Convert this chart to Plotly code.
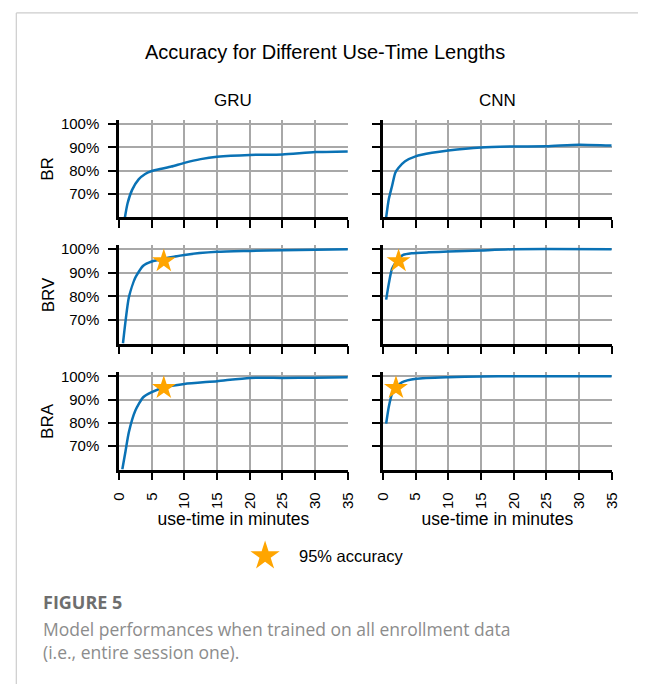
import plotly.graph_objects as go

# ---------------- data ----------------
models = ["GRU", "CNN"]
feature_sets = ["BR", "BRV", "BRA"]
x_ticks = [0, 5, 10, 15, 20, 25, 30, 35]
y_ticks = [0.7, 0.8, 0.9, 1.0]
y_tick_labels = ["70%", "80%", "90%", "100%"]

gru_br_t = [0.9, 1.3, 2.0, 3.0, 4.0, 5.0, 6.5, 8.0, 10, 12.5, 15, 20, 25, 30, 35]
gru_br_acc = [0.600, 0.660, 0.718, 0.763, 0.786, 0.799, 0.809, 0.818, 0.834, 0.850, 0.860, 0.868, 0.870, 0.880, 0.883]

cnn_br_t = [0.5, 0.9, 1.4, 1.9, 2.4, 3.4, 5.0, 7.5, 10, 15, 20, 25, 30, 35]
cnn_br_acc = [0.600, 0.678, 0.735, 0.792, 0.813, 0.841, 0.862, 0.877, 0.887, 0.900, 0.904, 0.905, 0.912, 0.908]

gru_brv_t = [0.6, 1.0, 1.5, 2.5, 3.7, 5.0, 6.85, 10, 15, 20, 25, 30, 35]
gru_brv_acc = [0.600, 0.696, 0.795, 0.880, 0.930, 0.948, 0.960, 0.976, 0.989, 0.993, 0.996, 0.998, 1.000]

cnn_brv_t = [0.5, 0.9, 1.4, 2.4, 3.1, 4.4, 7, 10, 15, 20, 35]
cnn_brv_acc = [0.786, 0.853, 0.917, 0.958, 0.976, 0.983, 0.987, 0.990, 0.995, 1.0, 1.0]

gru_bra_t = [0.5, 1.0, 1.5, 2.5, 3.7, 5.0, 6.85, 10, 15, 20, 25, 30, 35]
gru_bra_acc = [0.600, 0.680, 0.760, 0.853, 0.910, 0.932, 0.952, 0.967, 0.979, 0.993, 0.993, 0.994, 0.996]

cnn_bra_t = [0.5, 0.9, 1.4, 2.0, 2.9, 5.1, 10, 15, 20, 35]
cnn_bra_acc = [0.797, 0.868, 0.925, 0.952, 0.974, 0.989, 0.996, 0.999, 1.0, 1.0]

# 95% accuracy points (row, col): time
star_t = {("BRV", "GRU"): 6.85, ("BRV", "CNN"): 2.4, ("BRA", "GRU"): 6.85, ("BRA", "CNN"): 2.0}
star_acc = 0.95

curves = {
    ("BR", "GRU"): (gru_br_t, gru_br_acc),
    ("BR", "CNN"): (cnn_br_t, cnn_br_acc),
    ("BRV", "GRU"): (gru_brv_t, gru_brv_acc),
    ("BRV", "CNN"): (cnn_brv_t, cnn_brv_acc),
    ("BRA", "GRU"): (gru_bra_t, gru_bra_acc),
    ("BRA", "CNN"): (cnn_bra_t, cnn_bra_acc),
}

# ---------------- layout geometry ----------------
W, H = 646, 684
col_px = [(113, 348), (384, 619)]
row_px = [(116, 214), (242, 341), (370, 468)]

def px_x(p):
    return p / W

def px_y(p):
    return 1 - p / H

FONT = "Liberation Sans, Arial, sans-serif"
LINE_COLOR = "#0A72B5"
STAR_COLOR = "#FFA500"
GRID = "#a8a8a8"

fig = go.Figure()
layout = dict(
    width=W, height=H, autosize=False,
    margin=dict(l=0, r=0, t=0, b=0),
    paper_bgcolor="white", plot_bgcolor="white",
    showlegend=False,
    font=dict(family=FONT, color="black"),
)

annotations = []
idx = 0
for r, fs in enumerate(feature_sets):
    for c, m in enumerate(models):
        idx += 1
        xa = "x" if idx == 1 else f"x{idx}"
        ya = "y" if idx == 1 else f"y{idx}"
        xkey = "xaxis" if idx == 1 else f"xaxis{idx}"
        ykey = "yaxis" if idx == 1 else f"yaxis{idx}"
        t, acc = curves[(fs, m)]
        fig.add_trace(go.Scatter(x=t, y=acc, mode="lines", xaxis=xa, yaxis=ya,
                                 line=dict(color=LINE_COLOR, width=2.5, shape="spline", smoothing=0.6),
                                 cliponaxis=True))
        if (fs, m) in star_t:
            fig.add_trace(go.Scatter(x=[star_t[(fs, m)]], y=[star_acc], mode="markers",
                                     xaxis=xa, yaxis=ya,
                                     marker=dict(symbol="star", size=18, color=STAR_COLOR,
                                                 line=dict(width=0)),
                                     cliponaxis=False))
        layout[xkey] = dict(
            domain=[px_x(col_px[c][0]), px_x(col_px[c][1])],
            anchor=ya, range=[0, 35], tickvals=x_ticks,
            ticktext=[str(v) for v in x_ticks],
            showticklabels=(r == 2), tickangle=-90, ticklabelstandoff=6,
            ticks="outside", ticklen=8, tickwidth=1.5, tickcolor="black",
            showline=True, linecolor="black", linewidth=2.5,
            showgrid=True, gridcolor=GRID, gridwidth=1.5, zeroline=False,
            tickfont=dict(size=15, family=FONT, color="black"),
            title=dict(text="use-time in minutes" if r == 2 else "",
                       font=dict(size=17.5, family=FONT, color="black"), standoff=4),
        )
        layout[ykey] = dict(
            domain=[px_y(row_px[r][1]), px_y(row_px[r][0])],
            anchor=xa, range=[0.6, 1.017], tickvals=y_ticks, ticktext=y_tick_labels,
            showticklabels=(c == 0), ticklabelstandoff=6,
            ticks="outside", ticklen=8, tickwidth=1.5, tickcolor="black",
            showline=True, linecolor="black", linewidth=2.5,
            showgrid=True, gridcolor=GRID, gridwidth=1.5, zeroline=False,
            tickfont=dict(size=15, family=FONT, color="black"),
        )

# legend axis (hidden) with the star marker
fig.add_trace(go.Scatter(x=[0.5], y=[0.5], mode="markers", xaxis="x7", yaxis="y7",
                         marker=dict(symbol="star", size=22, color=STAR_COLOR, line=dict(width=0)),
                         cliponaxis=False))
layout["xaxis7"] = dict(domain=[px_x(248), px_x(278)], anchor="y7", range=[0, 1], visible=False)
layout["yaxis7"] = dict(domain=[px_y(570), px_y(540)], anchor="x7", range=[0, 1], visible=False)

# titles
annotations.append(dict(text="Accuracy for Different Use-Time Lengths", x=px_x(325), y=px_y(47),
                        xref="paper", yref="paper", showarrow=False, xanchor="center", yanchor="middle",
                        font=dict(size=20, family=FONT, color="black")))
for c, m in enumerate(models):
    annotations.append(dict(text=m, x=px_x((col_px[c][0] + col_px[c][1]) / 2), y=px_y(96),
                            xref="paper", yref="paper", showarrow=False, xanchor="center",
                            yanchor="middle", font=dict(size=17, family=FONT, color="black")))
for r, fs in enumerate(feature_sets):
    annotations.append(dict(text=fs, x=px_x(40), y=px_y((row_px[r][0] + row_px[r][1]) / 2),
                            xref="paper", yref="paper", showarrow=False, xanchor="center",
                            yanchor="middle", textangle=-90,
                            font=dict(size=17, family=FONT, color="black")))
annotations.append(dict(text="95% accuracy", x=px_x(296), y=px_y(555), xref="paper", yref="paper",
                        showarrow=False, xanchor="left", yanchor="middle",
                        font=dict(size=16.5, family=FONT, color="black")))

# caption
CAP_FONT = "Open Sans, Lato, sans-serif"
annotations.append(dict(text="<b>FIGURE 5</b>", x=px_x(33), y=px_y(601), xref="paper", yref="paper",
                        showarrow=False, xanchor="left", yanchor="middle",
                        font=dict(size=18, family=CAP_FONT, color="#6e6e6e")))
annotations.append(dict(text="Model performances when trained on all enrollment data<br>(i.e., entire session one).",
                        x=px_x(33), y=px_y(640), xref="paper", yref="paper",
                        showarrow=False, xanchor="left", yanchor="middle", align="left",
                        font=dict(size=17.5, family=CAP_FONT, color="#8c8c8c")))
layout["annotations"] = annotations

# page frame lines (left and top border)
layout["shapes"] = [
    dict(type="line", xref="paper", yref="paper", x0=px_x(7.5), x1=px_x(7.5), y0=0, y1=px_y(8),
         line=dict(color="#cccccc", width=1.2)),
    dict(type="line", xref="paper", yref="paper", x0=px_x(7.5), x1=1, y0=px_y(8), y1=px_y(8),
         line=dict(color="#cccccc", width=1.2)),
]

fig.update_layout(**layout)
fig.write_html("out.html", config={"displayModeBar": False},
               post_script="document.body.style.margin='0';document.body.style.overflow='hidden';")
